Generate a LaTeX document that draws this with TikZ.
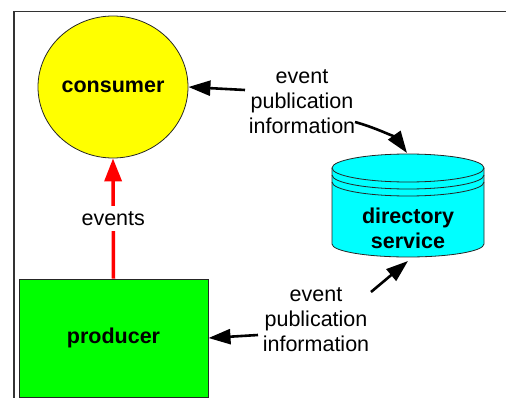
\documentclass[tikz,border=0pt]{standalone}
\usepackage{fontspec}
\setmainfont{Liberation Sans}
\usetikzlibrary{arrows.meta,shapes.geometric}
\definecolor{cyanfill}{RGB}{0,255,255}
\definecolor{greenfill}{RGB}{0,255,0}
\definecolor{yellowfill}{RGB}{255,255,0}
\definecolor{redline}{RGB}{255,0,0}
\begin{document}
\begin{tikzpicture}[x=1pt,y=-1pt,
  every node/.style={font=\fontsize{21.5}{25}\selectfont, inner sep=0pt},
  lbl/.style={align=center},
  boldlbl/.style={font=\fontsize{21.5}{25}\selectfont\bfseries, align=center},
  blkarrow/.style={draw=black, line width=2.6pt, -{Triangle[length=22pt,width=15pt]}},
  redarrow/.style={draw=redline, line width=3.5pt, -{Triangle[length=23pt,width=17pt]}},
  frameline/.style={draw=black!80, line width=1.5pt},
  shapeline/.style={draw=black!85, line width=0.8pt}
]
\useasboundingbox (0,0) rectangle (506,398);
% frame
\draw[frameline] (14,400) -- (14,11.5) -- (508,11.5);

% consumer
\node[ellipse, shapeline, fill=yellowfill, minimum width=150pt, minimum height=142pt, boldlbl] (consumer) at (113,87) {consumer};

% producer
\node[rectangle, shapeline, fill=greenfill, minimum width=189pt, minimum height=118pt, boldlbl] (producer) at (113.5,338) {producer};

% directory service cylinder
\fill[cyanfill] (332,168) arc[start angle=180,end angle=0,x radius=76,y radius=-14]
   -- (484,244) arc[start angle=0,end angle=-180,x radius=76,y radius=-13] -- cycle;
\draw[shapeline] (408,168) ellipse[x radius=76, y radius=14];
\draw[shapeline] (332,175) arc[start angle=180,end angle=360,x radius=76,y radius=-14];
\draw[shapeline] (332,182) arc[start angle=180,end angle=360,x radius=76,y radius=-14];
\draw[shapeline] (332,168) -- (332,244) arc[start angle=180,end angle=360,x radius=76,y radius=-13] -- (484,168);
\node[boldlbl] (directory) at (408,228.5) {directory\\service};
\coordinate (dirtop) at (407,153);
\coordinate (dirbot) at (408,261);

% labels
\node[lbl] (pubup) at (302,102) {event\\publication\\information};
\node[lbl] (publow) at (316,320) {event\\publication\\information};

% connectors
\coordinate (tailA) at (245,90);
\coordinate (tailB) at (355,122);
\coordinate (tailC) at (371,292);
\coordinate (tailD) at (258,335);
\draw[blkarrow] (tailA) -- (consumer.east);
\draw[blkarrow] (tailB) .. controls (380,129) and (397,139) .. (dirtop);
\draw[blkarrow] (tailC) -- (dirbot);
\draw[blkarrow] (tailD) -- (208.5,338);

\draw[redarrow] (producer.north) -- node[fill=white, inner ysep=5pt, inner xsep=2pt, lbl] (eventslbl) {events} (consumer.south);
\end{tikzpicture}
\end{document}
